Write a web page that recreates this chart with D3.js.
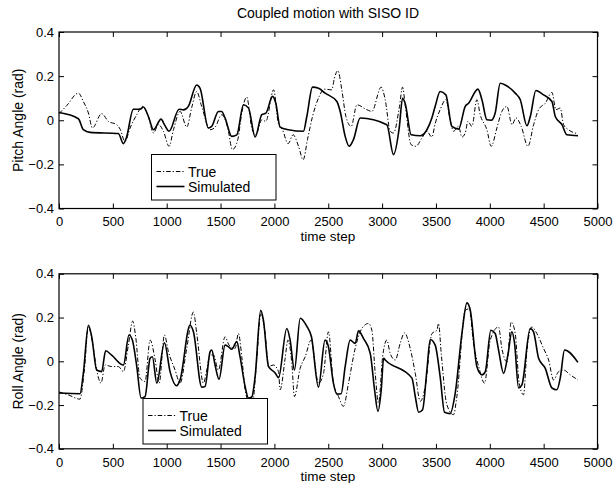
<!DOCTYPE html>
<html>
<head>
<meta charset="utf-8">
<script src="https://cdn.jsdelivr.net/npm/d3@7"></script>
<style>
  body { margin: 0; background: #fff; }
  text { font-family: "Liberation Sans", Arial, Helvetica, sans-serif; fill: #000; }
</style>
</head>
<body>
<div id="grafico"></div>
<script>
// valores (paso de tiempo, angulo en rad)
const pitchSimStep = [0,180,226,288,551,598,627,690,753,784,830,877,948,979,1022,1115,1155,1201,1278,1310,1387,1418,1480,1511,1542,1604,1651,1713,1760,1821,1883,1921,1983,2013,2053,2131,2270,2301,2354,2410,2471,2580,2611,2657,2694,2734,2796,3044,3106,3159,3190,3214,3270,3354,3416,3462,3493,3539,3592,3648,3710,3772,3803,3890,3927,3973,4013,4050,4097,4143,4236,4283,4345,4376,4428,4499,4577,4608,4670,4716,4819];
const pitchSimVal = [0.035,0.007,-0.043,-0.055,-0.06,-0.106,-0.077,0.05,0.05,0.06,0.017,-0.043,0.005,-0.02,-0.05,0.05,0.047,0.063,0.16,0.145,-0.035,-0.028,0.04,0.04,0.01,-0.073,-0.066,0.07,0.055,-0.076,0.025,0.032,0.108,0.077,-0.031,-0.043,-0.05,0.017,0.15,0.145,0.123,0.085,0.04,-0.073,-0.118,-0.088,0.01,-0.02,-0.156,-0.035,0.1,0.077,-0.066,-0.07,-0.043,0.01,0.063,0.13,0.115,-0.028,-0.04,0.063,0.077,0.141,0.093,0.002,0,0.033,0.168,0.16,0.123,0.093,-0.025,0.017,0.135,0.115,0.085,0.017,-0.02,-0.066,-0.07];

const pitchTrueStep = [0,71,180,226,273,310,396,458,536,567,613,660,722,774,830,877,923,970,1022,1063,1124,1186,1232,1278,1325,1403,1450,1511,1567,1610,1660,1697,1743,1790,1827,1883,1920,1993,2037,2075,2127,2174,2224,2267,2307,2354,2416,2462,2533,2557,2589,2626,2664,2713,2766,2858,2905,2991,3029,3075,3106,3159,3190,3214,3270,3314,3369,3416,3462,3493,3539,3592,3632,3663,3710,3741,3772,3797,3834,3880,3911,3973,4013,4066,4112,4159,4206,4243,4292,4354,4407,4453,4515,4577,4614,4654,4685,4731,4819];
const pitchTrueVal = [0.03,0.066,0.123,0.085,0.033,-0.035,0.03,-0.005,-0.02,-0.04,-0.096,-0.035,0.025,0.063,0.017,-0.058,-0.02,-0.05,-0.118,-0.043,0.04,-0.031,0.057,0.13,0.063,-0.043,-0.031,0.025,-0.035,-0.133,-0.088,0.033,0.105,-0.035,-0.066,0.002,-0.005,0.138,-0.015,-0.043,-0.106,-0.066,-0.118,-0.179,-0.088,0.017,0.108,0.141,0.138,0.19,0.225,0.138,0.017,-0.028,0.07,0.048,0.04,0.15,0.093,-0.05,-0.058,0.055,0.15,0.07,-0.111,-0.118,-0.081,-0.05,-0.076,-0.015,0.048,0.093,0.002,-0.05,-0.028,-0.076,-0.058,-0.005,-0.028,0.093,0.025,-0.043,-0.118,-0.035,0.04,0.063,-0.02,0.01,-0.028,-0.118,-0.02,0.048,0.077,0.126,0.048,0.055,-0.02,-0.043,-0.061];

const rollSimStep = [0,195,226,273,304,350,396,433,489,598,650,681,722,762,799,846,867,908,979,1031,1093,1124,1217,1248,1325,1356,1403,1418,1449,1486,1542,1573,1604,1651,1681,1728,1759,1790,1821,1873,1898,1945,2007,2038,2115,2146,2186,2240,2301,2344,2409,2470,2500,2548,2580,2620,2657,2704,2750,2781,2828,2890,2930,2961,2992,3014,3029,3277,3308,3339,3376,3416,3447,3493,3539,3580,3632,3679,3741,3788,3819,3880,3927,3958,4010,4050,4081,4128,4168,4205,4230,4267,4298,4375,4406,4453,4515,4577,4623,4654,4694,4818];
const rollSimVal = [-0.145,-0.148,-0.055,0.165,0.112,-0.04,-0.047,0.048,0.028,-0.017,0.12,0.097,-0.023,-0.168,-0.161,0.014,0.021,-0.1,0.085,-0.047,-0.112,-0.085,0.165,0.135,-0.118,-0.115,0.044,0.052,-0.017,-0.082,0.074,0.067,0.055,0.09,0.021,-0.115,-0.168,-0.163,-0.07,0.233,0.188,-0.023,-0.053,-0.075,0.15,0.097,-0.04,0.197,0.16,0.112,-0.118,0.097,0.07,-0.1,-0.15,-0.148,-0.024,0.097,0.082,0.139,0.104,0.036,-0.13,-0.229,-0.13,0.014,0.006,-0.077,-0.161,-0.233,-0.221,-0.04,0.1,0.074,-0.07,-0.233,-0.239,-0.146,0.127,0.267,0.233,-0.024,-0.062,-0.047,0.142,0.127,0.052,-0.055,0.029,0.135,0.082,-0.122,-0.108,0.15,0.135,0.014,-0.032,-0.122,-0.13,-0.077,0.052,-0.005];

const rollTrueStep = [0,93,195,235,273,310,350,390,428,489,551,598,644,684,712,752,799,846,893,930,979,1016,1078,1124,1186,1248,1279,1341,1372,1403,1434,1480,1542,1579,1635,1666,1697,1728,1790,1836,1873,1914,1945,1991,2038,2053,2100,2125,2162,2186,2239,2286,2341,2409,2456,2502,2548,2595,2641,2688,2750,2812,2874,2905,2936,2967,3005,3044,3075,3122,3168,3208,3261,3308,3354,3401,3463,3509,3524,3549,3601,3663,3694,3772,3809,3849,3901,3951,4004,4081,4112,4159,4199,4236,4273,4313,4344,4391,4437,4499,4546,4592,4639,4685,4747,4818];
const rollTrueVal = [-0.14,-0.155,-0.173,-0.04,0.157,0.089,-0.04,-0.1,-0.017,-0.024,-0.024,-0.047,0.074,0.184,0.112,-0.077,-0.092,0.097,0.006,-0.1,0.12,0.044,-0.04,-0.1,0.059,0.225,0.127,-0.1,-0.04,0.029,0.029,-0.04,0.112,0.074,0.059,0.127,0.021,-0.13,-0.214,0.006,0.215,0.127,-0.024,-0.017,-0.047,-0.13,0.014,0.097,-0.01,-0.161,-0.032,0.021,0.097,-0.1,-0.055,0.135,-0.1,-0.161,-0.206,-0.1,0.059,0.15,0.173,0.142,-0.055,-0.191,0.021,0.097,0.036,0.006,0.082,0.13,0.059,-0.055,-0.183,-0.115,0.127,0.142,0.173,0.036,-0.198,-0.244,-0.161,0.233,0.24,0.082,-0.032,-0.1,0.097,0.157,0.059,-0.003,0.18,0.127,-0.1,-0.153,0.044,0.157,0.127,0.059,0.006,-0.085,-0.047,-0.04,-0.062,-0.085];

const xTicks = [0,500,1000,1500,2000,2500,3000,3500,4000,4500,5000];
const yTicks = [-0.4,-0.2,0,0.2,0.4];
const legendLabels = ["True", "Simulated"];

const ancho = 616, alto = 483;
const izq = 59, der = 597.5;

const $svg = d3.select("#grafico")
    .append("svg")
    .attr("width", ancho)
    .attr("height", alto);

const x = d3.scaleLinear().domain([0, 5000]).range([izq, der]);
const formatoY = d => d === 0 ? "0" : d3.format(".1f")(d);

const juntar = (pasos, valores) => pasos.map((p, i) => [p, valores[i]]);

const dibujarPanel = (arriba, abajo, sim, real, yLabel, leyenda, bajaTitulo) => {
    const y = d3.scaleLinear().domain([-0.4, 0.4]).range([abajo, arriba]);
    const g = $svg.append("g");

    const linea = d3.line()
        .x(d => x(d[0]))
        .y(d => y(d[1]))
        .curve(d3.curveMonotoneX);

    // curvas
    g.append("path")
        .attr("d", linea(real))
        .attr("fill", "none")
        .attr("stroke", "#000")
        .attr("stroke-width", 1)
        .attr("stroke-dasharray", "4.5,2,1.2,2");
    g.append("path")
        .attr("d", linea(sim))
        .attr("fill", "none")
        .attr("stroke", "#000")
        .attr("stroke-width", 1.6);

    // ejes con marcas hacia adentro, estilo matlab
    g.append("g")
        .attr("transform", `translate(0,${abajo})`)
        .call(d3.axisBottom(x).tickValues(xTicks).tickSize(-5).tickPadding(8.5).tickFormat(d3.format("d")));
    g.append("g")
        .attr("transform", `translate(0,${arriba})`)
        .call(d3.axisTop(x).tickValues(xTicks).tickSize(-5).tickFormat(""));
    g.append("g")
        .attr("transform", `translate(${izq},0)`)
        .call(d3.axisLeft(y).tickValues(yTicks).tickSize(-5).tickPadding(5).tickFormat(formatoY));
    g.append("g")
        .attr("transform", `translate(${der},0)`)
        .call(d3.axisRight(y).tickValues(yTicks).tickSize(-5).tickFormat(""));

    g.selectAll(".domain").remove();
    g.selectAll(".tick line").attr("stroke", "#000");
    g.selectAll(".tick text")
        .attr("font-size", 13)
        .attr("fill", "#000");

    g.append("rect")
        .attr("x", izq)
        .attr("y", arriba)
        .attr("width", der - izq)
        .attr("height", abajo - arriba)
        .attr("fill", "none")
        .attr("stroke", "#000")
        .attr("stroke-width", 1.2);

    g.append("text")
        .attr("x", 328)
        .attr("y", abajo + bajaTitulo)
        .attr("font-size", 13.5)
        .style("text-anchor", "middle")
        .text("time step");

    g.append("text")
        .attr("transform", `translate(23,${(arriba + abajo) / 2}) rotate(-90)`)
        .attr("font-size", 14)
        .style("text-anchor", "middle")
        .text(yLabel);

    // leyenda
    const ley = g.append("g").attr("transform", `translate(${leyenda[0]},${leyenda[1]})`);
    ley.append("rect")
        .attr("width", 124.5)
        .attr("height", 45.5)
        .attr("fill", "#fff")
        .attr("stroke", "#000")
        .attr("stroke-width", 1);
    legendLabels.forEach((nombre, i) => {
        const yy = 17 + i * 15;
        ley.append("line")
            .attr("x1", 5).attr("x2", 33)
            .attr("y1", yy).attr("y2", yy)
            .attr("stroke", "#000")
            .attr("stroke-width", i === 0 ? 1 : 1.6)
            .attr("stroke-dasharray", i === 0 ? "4.5,2,1.2,2" : null);
        ley.append("text")
            .attr("x", 36.5)
            .attr("y", yy + 5)
            .attr("font-size", 14)
            .text(nombre);
    });
};

$svg.append("text")
    .attr("x", 328)
    .attr("y", 18)
    .attr("font-size", 14)
    .style("text-anchor", "middle")
    .text("Coupled motion with SISO ID");

dibujarPanel(32, 208.5, juntar(pitchSimStep, pitchSimVal), juntar(pitchTrueStep, pitchTrueVal),
    "Pitch Angle (rad)", [151.5, 154.5], 32.5);
dibujarPanel(273.8, 448.8, juntar(rollSimStep, rollSimVal), juntar(rollTrueStep, rollTrueVal),
    "Roll Angle (rad)", [143, 398.5], 32.2);
</script>
</body>
</html>
